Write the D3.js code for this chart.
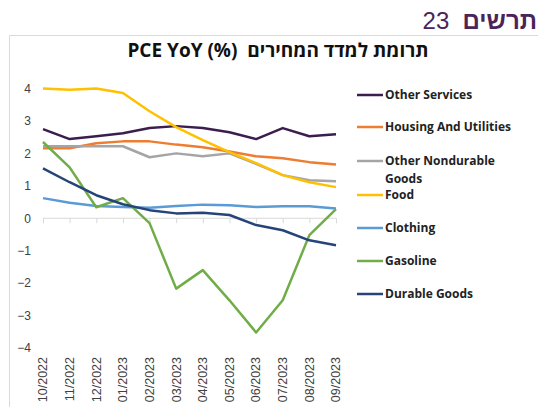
<!DOCTYPE html>
<html>
<head>
<meta charset="utf-8">
<script src="https://cdn.jsdelivr.net/npm/d3@7"></script>
<style>
  body { margin: 0; background: #fff; }
  svg { display: block; }
</style>
</head>
<body>
<div id="chart"></div>
<script>
// Data
var months = ["10/2022", "11/2022", "12/2022", "01/2023", "02/2023", "03/2023",
              "04/2023", "05/2023", "06/2023", "07/2023", "08/2023", "09/2023"];

var otherServices   = [2.75, 2.44, 2.53, 2.62, 2.78, 2.84, 2.78, 2.65, 2.44, 2.78, 2.53, 2.59];
var housing         = [2.16, 2.16, 2.31, 2.37, 2.37, 2.27, 2.19, 2.06, 1.91, 1.85, 1.73, 1.66];
var otherNondurable = [2.22, 2.22, 2.22, 2.22, 1.88, 2.00, 1.91, 2.00, 1.68, 1.33, 1.17, 1.14];
var food            = [4.00, 3.96, 4.00, 3.86, 3.30, 2.81, 2.41, 2.04, 1.70, 1.33, 1.11, 0.96];
var clothing        = [0.62, 0.48, 0.38, 0.35, 0.32, 0.38, 0.42, 0.40, 0.35, 0.37, 0.37, 0.30];
var gasoline        = [2.35, 1.57, 0.34, 0.62, -0.15, -2.17, -1.60, -2.53, -3.52, -2.53, -0.52, 0.28];
var durable         = [1.54, 1.11, 0.71, 0.43, 0.25, 0.15, 0.17, 0.10, -0.21, -0.37, -0.68, -0.83];

var yTicks = [4, 3, 2, 1, 0, -1, -2, -3, -4];

var series = [
  { name: "Other Services", values: otherServices, color: "#3b1d4e" },
  { name: "Housing And Utilities", values: housing, color: "#ed7d31" },
  { name: "Other Nondurable Goods", values: otherNondurable, color: "#a5a5a5" },
  { name: "Food", values: food, color: "#ffc000" },
  { name: "Clothing", values: clothing, color: "#5b9bd5" },
  { name: "Gasoline", values: gasoline, color: "#70ad47" },
  { name: "Durable Goods", values: durable, color: "#264478" }
];

var svgWidth = 538;
var svgHeight = 407;

var svg = d3.select("#chart")
    .append("svg")
    .attr("width", svgWidth)
    .attr("height", svgHeight);

// Page header
svg.append("text")
    .attr("x", 537)
    .attr("y", 29)
    .attr("text-anchor", "end")
    .attr("font-family", "Liberation Sans, Arial, sans-serif")
    .attr("font-size", "24px")
    .attr("fill", "#4b2458")
    .attr("direction", "ltr")
    .attr("xml:space", "preserve")
    .html('23  <tspan font-weight="bold">תרשים</tspan>');

// Chart frame
svg.append("path")
    .attr("d", "M9.5,407 V35.5 H538")
    .attr("fill", "none")
    .attr("stroke", "#d9d9d9")
    .attr("stroke-width", 1);

// Chart title
svg.append("text")
    .attr("x", 278)
    .attr("y", 57)
    .attr("text-anchor", "middle")
    .attr("font-family", "Open Sans, sans-serif")
    .attr("font-weight", "bold")
    .attr("font-size", "19px")
    .attr("fill", "#111")
    .attr("direction", "ltr")
    .attr("xml:space", "preserve")
    .text("PCE YoY (%)  תרומת למדד המחירים");

// Scales
var x = d3.scalePoint()
    .domain(months)
    .range([43, 336]);

var y = d3.scaleLinear()
    .domain([-4, 4])
    .range([348, 88.5]);

// Y axis labels (no axis line)
var leftAxis = d3.axisLeft(y).tickValues(yTicks).tickSize(0).tickPadding(0);
var yAxisG = svg.append("g")
    .attr("transform", "translate(31,0)")
    .call(leftAxis);
yAxisG.select(".domain").remove();
yAxisG.selectAll("text")
    .attr("font-family", "Liberation Sans, Arial, sans-serif")
    .attr("font-size", "12px")
    .attr("fill", "#404040");

// X axis at zero
var bottomAxis = d3.axisBottom(x).tickSize(5).tickFormat("");
var xAxisG = svg.append("g")
    .attr("transform", `translate(0, ${y(0)})`)
    .call(bottomAxis);
xAxisG.select(".domain").attr("stroke", "#d9d9d9").attr("d", `M${x(months[0])},0H${x(months[months.length - 1])}`);
xAxisG.selectAll(".tick line").attr("stroke", "#d9d9d9");

// X labels at bottom, rotated
svg.append("g").selectAll("text")
    .data(months)
    .enter()
    .append("text")
    .attr("transform", d => `translate(${x(d)}, 357) rotate(-90)`)
    .attr("dy", "0.35em")
    .attr("text-anchor", "end")
    .attr("font-family", "Liberation Sans, Arial, sans-serif")
    .attr("font-size", "12.5px")
    .attr("fill", "#404040")
    .text(d => d);

// Lines
var line = d3.line()
    .x((d, i) => x(months[i]))
    .y(d => y(d));

svg.append("g").selectAll("path")
    .data(series)
    .enter()
    .append("path")
    .attr("d", d => line(d.values))
    .attr("fill", "none")
    .attr("stroke", d => d.color)
    .attr("stroke-width", 2.5)
    .attr("stroke-linejoin", "round");

// Legend
var legendY = [95, 127, 161, 195, 228, 261, 294];
var legend = svg.append("g").selectAll("g")
    .data(series)
    .enter()
    .append("g")
    .attr("transform", (d, i) => `translate(357, ${legendY[i]})`);

legend.append("line")
    .attr("x1", 0)
    .attr("x2", 26)
    .attr("stroke", d => d.color)
    .attr("stroke-width", 2.5);

legend.append("text")
    .attr("x", 28)
    .attr("dy", "0.35em")
    .attr("font-family", "Open Sans, sans-serif")
    .attr("font-weight", "bold")
    .attr("font-size", "12px")
    .attr("fill", "#222")
    .each(function(d) {
        var t = d3.select(this);
        if (d.name === "Other Nondurable Goods") {
            t.append("tspan").attr("x", 28).text("Other Nondurable");
            t.append("tspan").attr("x", 28).attr("dy", "1.5em").text("Goods");
        } else {
            t.text(d.name);
        }
    });
</script>
</body>
</html>
